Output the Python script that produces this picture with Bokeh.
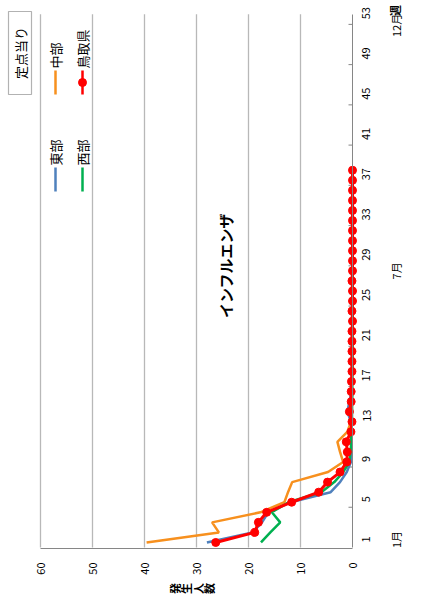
import math
from bokeh.plotting import figure
from bokeh.models import Range1d, FixedTicker, Label, BoxAnnotation
from bokeh.embed import file_html
from bokeh.resources import INLINE

# ---------------- data ----------------
weeks = list(range(1, 39))
tobu = [28.0, 19.2, 17.4, 16.2, 11.9, 4.2, 2.4, 1.1, 0.3, 0.2, 0.2, 0.4, 0.3, 1.0, 0.6, 0.2,
        0.1, 0.1, 0.1, 0.1, 0.0, 0.1, 0.0, 0.0, 0.1, 0.0, 0.0, 0.0, 0.0, 0.0, 0.0, 0.0,
        0.0, 0.0, 0.0, 0.0, 0.0, 0.0]
chubu = [39.6, 25.7, 27.0, 17.7, 13.1, 12.4, 11.6, 4.7, 1.8, 2.4, 2.9, 1.0, 0.3, 0.1, 0.1, 0.1,
         0.1, 0.0, 0.1, 0.0, 0.0, 0.0, 0.0, 0.0, 0.0, 0.0, 0.0, 0.0, 0.0, 0.0, 0.0, 0.0,
         0.0, 0.0, 0.0, 0.0, 0.0, 0.0]
seibu = [17.6, 15.8, 13.9, 15.5, 12.3, 6.0, 3.5, 1.8, 0.6, 0.4, 0.2, 0.3, 0.1, 0.1, 0.1, 0.0,
         0.1, 0.0, 0.0, 0.0, 0.0, 0.0, 0.0, 0.0, 0.0, 0.0, 0.0, 0.0, 0.0, 0.0, 0.0, 0.0,
         0.0, 0.0, 0.0, 0.0, 0.0, 0.0]
tottori = [26.3, 18.8, 18.1, 16.5, 11.7, 6.5, 4.8, 2.4, 1.1, 1.0, 1.2, 0.3, 0.1, 0.6, 0.25, 0.25,
           0.2, 0.1, 0.1, 0.1, 0.1, 0.1, 0.0, 0.1, 0.0, 0.0, 0.1, 0.0, 0.0, 0.0, 0.0, 0.0,
           0.0, 0.0, 0.0, 0.0, 0.0, 0.0]
series_names = ["東部", "中部", "西部", "鳥取県"]
week_ticks = list(range(1, 54, 4))
value_ticks = [0, 10, 20, 30, 40, 50, 60]
month_labels = ["1月", "7月", "12月"]
month_weeks = [1.3, 28.0, 52.4]
title_text = "インフルエンザ"
y_title = "発生人数"
unit_text = "定点当り"
week_word = "週"

FONT = "Noto Sans CJK JP"
C_BLUE = "#4f81bd"
C_ORANGE = "#f7901e"
C_GREEN = "#00b050"
C_RED = "#ff0000"
AX = "#868686"
GRID = "#b8b8b8"
ROT = math.pi / 2
W, H = 405, 594


# picture-pixel -> data helpers (used only to place decorations)
def X(px):
    return (352 - px) / 5.2


def Y(py):
    return (547 - py) / 10.06 + 0.5


# the frame covers the whole canvas so that nothing is clipped;
# the chart's own plot area is 0..60 x 0.5..53.5 within it
p = figure(width=W, height=H, output_backend="svg", toolbar_location=None,
           x_range=Range1d(X(0), X(W)), y_range=Range1d(Y(H), Y(0)),
           x_axis_location="below", y_axis_location="right",
           min_border_left=0, min_border_right=0, min_border_top=0, min_border_bottom=0,
           title=None)
p.outline_line_color = None
p.background_fill_color = "white"
p.border_fill_color = "white"
p.xgrid.visible = False
p.ygrid.visible = False

# value axis (bottom of plot area)
xa = p.xaxis[0]
xa.fixed_location = Y(548)
xa.bounds = (0, 60)
xa.ticker = FixedTicker(ticks=value_ticks)
xa.major_label_orientation = ROT
xa.major_tick_in = 0
xa.major_tick_out = 0
xa.minor_tick_in = 0
xa.minor_tick_out = 0
xa.axis_line_color = AX
xa.major_label_standoff = 14
xa.major_label_text_font = FONT
xa.major_label_text_font_size = "11px"
xa.major_label_text_color = "#000000"

# week axis (right of plot area)
ya = p.yaxis[0]
ya.fixed_location = 0
ya.bounds = (0.5, 53.5)
ya.ticker = FixedTicker(ticks=week_ticks)
ya.major_label_orientation = ROT
ya.major_tick_in = 0
ya.major_tick_out = 0
ya.minor_tick_in = 0
ya.minor_tick_out = 0
ya.axis_line_color = AX
ya.major_label_standoff = 14
ya.major_label_text_font = FONT
ya.major_label_text_font_size = "11px"
ya.major_label_text_color = "#000000"

# grid lines at the value ticks, limited to the plot area
gv = [v for v in value_ticks if v > 0]
p.segment(x0=gv, x1=gv, y0=[0.5] * len(gv), y1=[53.5] * len(gv),
          line_color=GRID, line_width=1.3)

# inward tick marks between week groups
bounds = [b + 0.5 for b in range(4, 53, 4)]
p.segment(x0=[0] * len(bounds), x1=[X(348)] * len(bounds), y0=bounds, y1=bounds,
          line_color=AX, line_width=1)

# series
p.line(tobu, weeks, line_color=C_BLUE, line_width=2.5)
p.line(chubu, weeks, line_color=C_ORANGE, line_width=2.5)
p.line(seibu, weeks, line_color=C_GREEN, line_width=2.5)
p.line(tottori, weeks, line_color=C_RED, line_width=3)
p.scatter(tottori, weeks, marker="circle", size=8, fill_color=C_RED, line_color=C_RED)

# legend (manual, rotated)
leg = [(series_names[0], C_BLUE, 55, 191, 167, False),
       (series_names[2], C_GREEN, 82, 191, 167, False),
       (series_names[1], C_ORANGE, 55, 94, 70, False),
       (series_names[3], C_RED, 82, 94, 70, True)]
for name, col, lx, yb, yt, mk in leg:
    p.segment(x0=[X(lx)], x1=[X(lx)], y0=[Y(yb)], y1=[Y(yt)], line_color=col, line_width=2.5)
    if mk:
        p.scatter([X(lx)], [Y((yb + yt) / 2)], marker="circle", size=8,
                  fill_color=col, line_color=col)
    p.add_layout(Label(x=X(lx), y=Y(yt - 2), text=name, angle=ROT,
                       text_align="left", text_baseline="middle",
                       text_font=FONT, text_font_size="13px", text_color="#000000"))

# title
p.add_layout(Label(x=X(225), y=Y(265), text=title_text, angle=ROT,
                   text_align="center", text_baseline="middle",
                   text_font=FONT, text_font_size="15px", text_font_style="bold",
                   text_color="#000000"))

# unit box
p.add_layout(BoxAnnotation(left=X(8), right=X(31), top=Y(11), bottom=Y(94),
                           fill_alpha=0, line_color="#000000", line_width=1.2))
p.add_layout(Label(x=X(19.5), y=Y(52.5), text=unit_text, angle=ROT,
                   text_align="center", text_baseline="middle",
                   text_font=FONT, text_font_size="13px", text_color="#000000"))

# axis title (vertical text, rotated): one character each
for i, ch in enumerate(y_title):
    p.add_layout(Label(x=X(174 + 11.5 * i), y=Y(588), text=ch, angle=ROT,
                       text_align="center", text_baseline="middle",
                       text_font=FONT, text_font_size="11px", text_font_style="bold",
                       text_color="#000000"))

# month labels
for m, w in zip(month_labels, month_weeks):
    p.add_layout(Label(x=X(395), y=w, text=m, angle=ROT,
                       text_align="center", text_baseline="middle",
                       text_font=FONT, text_font_size="11px", text_color="#000000"))
p.add_layout(Label(x=X(394), y=Y(10), text=week_word, angle=ROT,
                   text_align="center", text_baseline="middle",
                   text_font=FONT, text_font_size="11px", text_font_style="bold",
                   text_color="#000000"))

open("out.html", "w").write(file_html(p, INLINE))
